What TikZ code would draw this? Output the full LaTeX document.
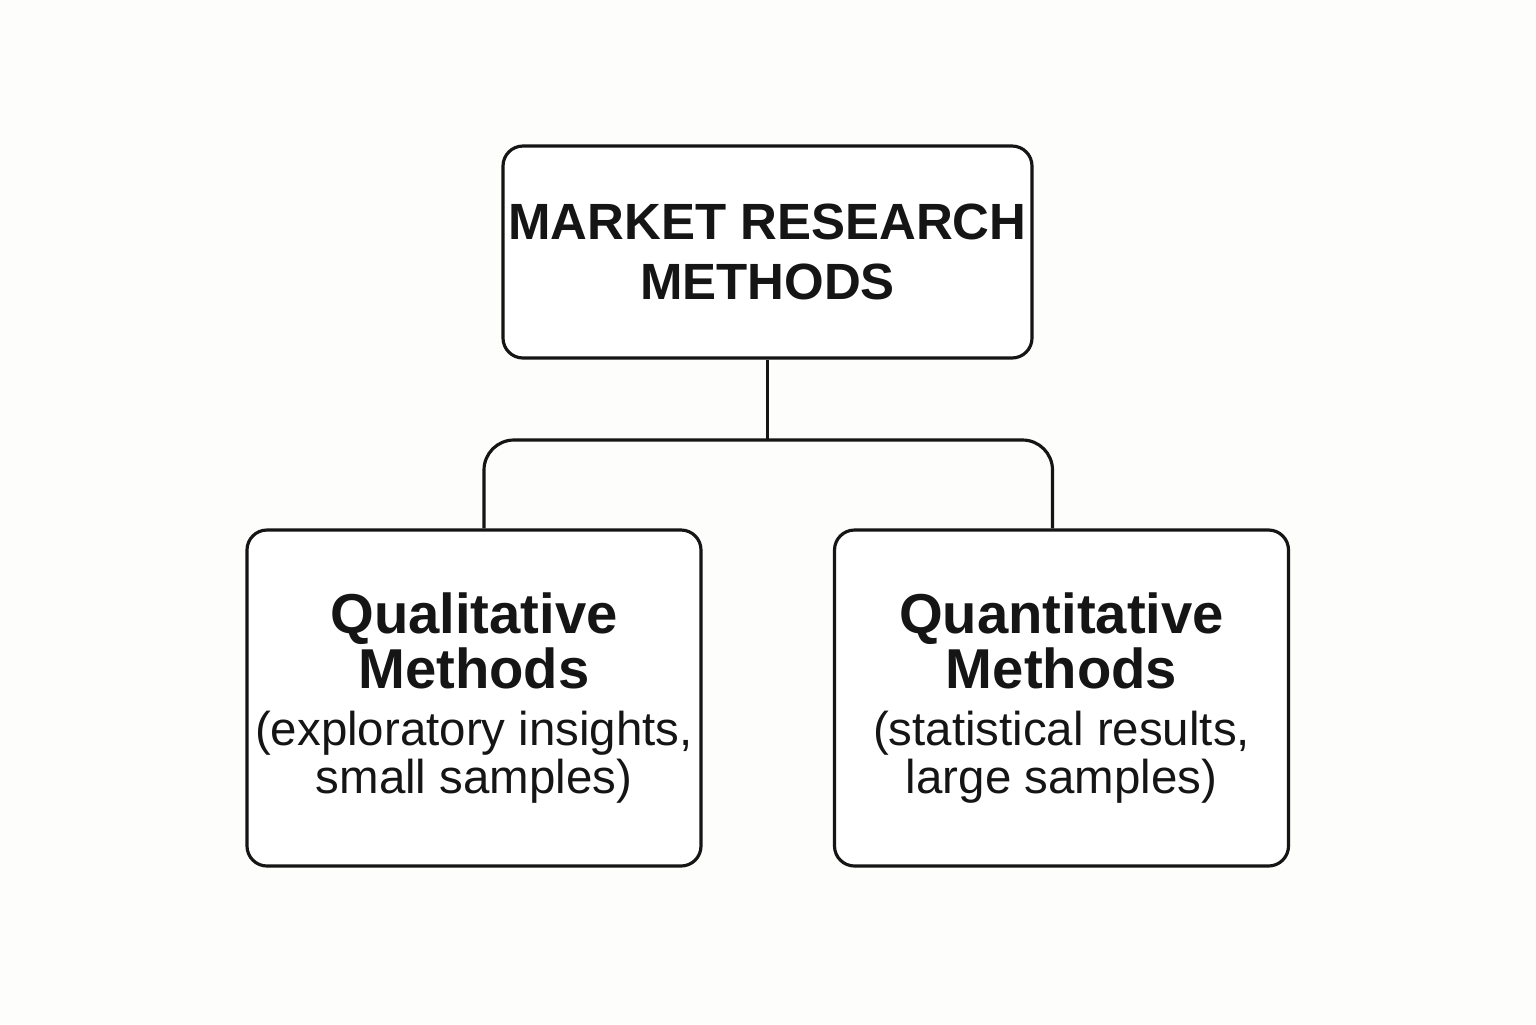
\documentclass[tikz,border=0pt]{standalone}
\usepackage{fontspec}
\setmainfont{Liberation Sans}
\usetikzlibrary{positioning}
\definecolor{bgpaper}{HTML}{FDFDFB}
\definecolor{inkline}{HTML}{151515}
\tikzset{
  box/.style = {draw=inkline, line width=0.9pt, rounded corners=0.2cm,
    fill=white, align=center, inner sep=0pt, text=inkline},
  top_box/.style = {box, minimum width=5.29cm, minimum height=2.12cm,
    font=\fontsize{14.5}{17}\selectfont\bfseries},% noeud racine
  leaf_box/.style = {box, minimum width=4.54cm, minimum height=3.36cm},% feuille
  link/.style = {draw=inkline, line width=0.9pt}
}
\newcommand{\leaftitle}{\fontsize{16}{17.5}\selectfont\bfseries}
\newcommand{\leafnote}{\fontsize{13.5}{15}\selectfont\mdseries}
\begin{document}
\begin{tikzpicture}
  \fill[bgpaper] (0,0) rectangle (15.36,-10.24);
  \useasboundingbox (0,0) rectangle (15.36,-10.24);
  \node[top_box] (root) at (7.675,-2.52) {MARKET RESEARCH\\METHODS};
  \node[leaf_box] (qual) at (4.74,-6.98)
    {\leaftitle Qualitative\\\leaftitle Methods\\[0.15cm]\leafnote (exploratory insights,\\\leafnote small samples)};
  \node[leaf_box] (quant) at (10.615,-6.98)
    {\leaftitle Quantitative\\\leaftitle Methods\\[0.15cm]\leafnote (statistical results,\\\leafnote large samples)};
  \coordinate (joint) at (7.675,-4.40);
  \draw[link] (root.south) -- (joint);
  \draw[link, rounded corners=0.3cm] ([xshift=0.1cm]qual.north) |- (joint)
    -| ([xshift=-0.09cm]quant.north);
\end{tikzpicture}
\end{document}
